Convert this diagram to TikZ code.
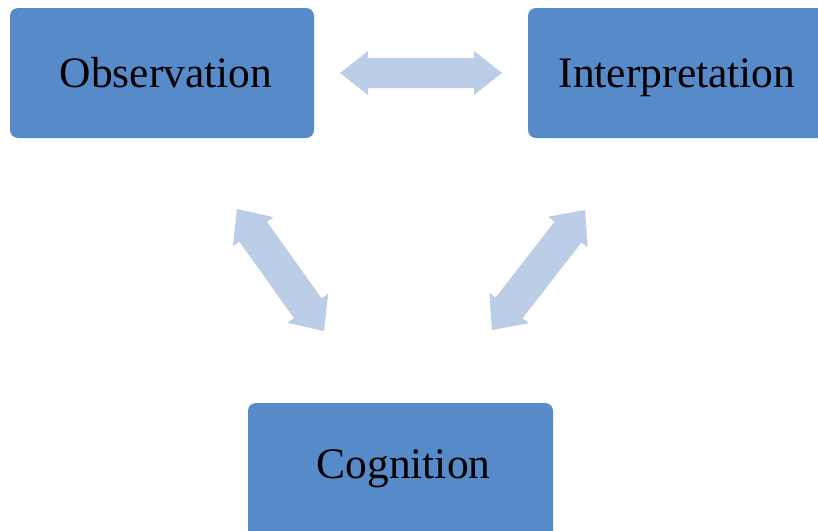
\documentclass[tikz,border=0pt]{standalone}
\usepackage{fontspec}
\setmainfont{Liberation Serif}
\definecolor{boxblue}{RGB}{86,138,200}
\definecolor{arrowblue}{RGB}{188,205,231}
\tikzset{
  box/.style={fill=boxblue, draw=none, rounded corners=8pt},
  lbl/.style={font=\fontsize{43.5}{50}\selectfont, text=black, anchor=base, inner sep=0pt},
  blockarrow/.style={fill=arrowblue, draw=none}
}
\newcommand{\dblarrow}[3]{% #1 = length, #2 = shaft half width, #3 = head half width
  \fill[blockarrow] (-#1/2,0) -- (-#1/2+28,#3) -- (-#1/2+28,#2) -- (#1/2-28,#2) -- (#1/2-28,#3) -- (#1/2,0)
    -- (#1/2-28,-#3) -- (#1/2-28,-#2) -- (-#1/2+28,-#2) -- (-#1/2+28,-#3) -- cycle;}
\begin{document}
\begin{tikzpicture}[x=1pt,y=-1pt]
\useasboundingbox (0,0) rectangle (818,530);
\clip (0,0) rectangle (818,530);
% boxes
\path[box] (10,8) rectangle (314,138);
\node[inner sep=0pt] (obs) at (162,73) {};
\path[box] (528,8) rectangle (832,138);
\node[inner sep=0pt] (int) at (680,73) {};
\path[box] (248,403) rectangle (553,545);
\node[inner sep=0pt] (cog) at (400,466) {};
% labels
\node[lbl] (obslbl) at (166,87) {Observation};
\node[lbl] (intlbl) at (677,87) {Interpretation};
\node[lbl] (coglbl) at (403.5,478) {Cognition};
% block arrows
\begin{scope}[shift={(421,73)}]
  \dblarrow{162}{15}{22}
\end{scope}
\begin{scope}[shift={(280.5,270)}, rotate=-54.5]
  \dblarrow{150}{17}{25}
\end{scope}
\begin{scope}[shift={(538.5,270)}, rotate=-127.8]
  \dblarrow{152}{17}{25}
\end{scope}
\end{tikzpicture}
\end{document}
